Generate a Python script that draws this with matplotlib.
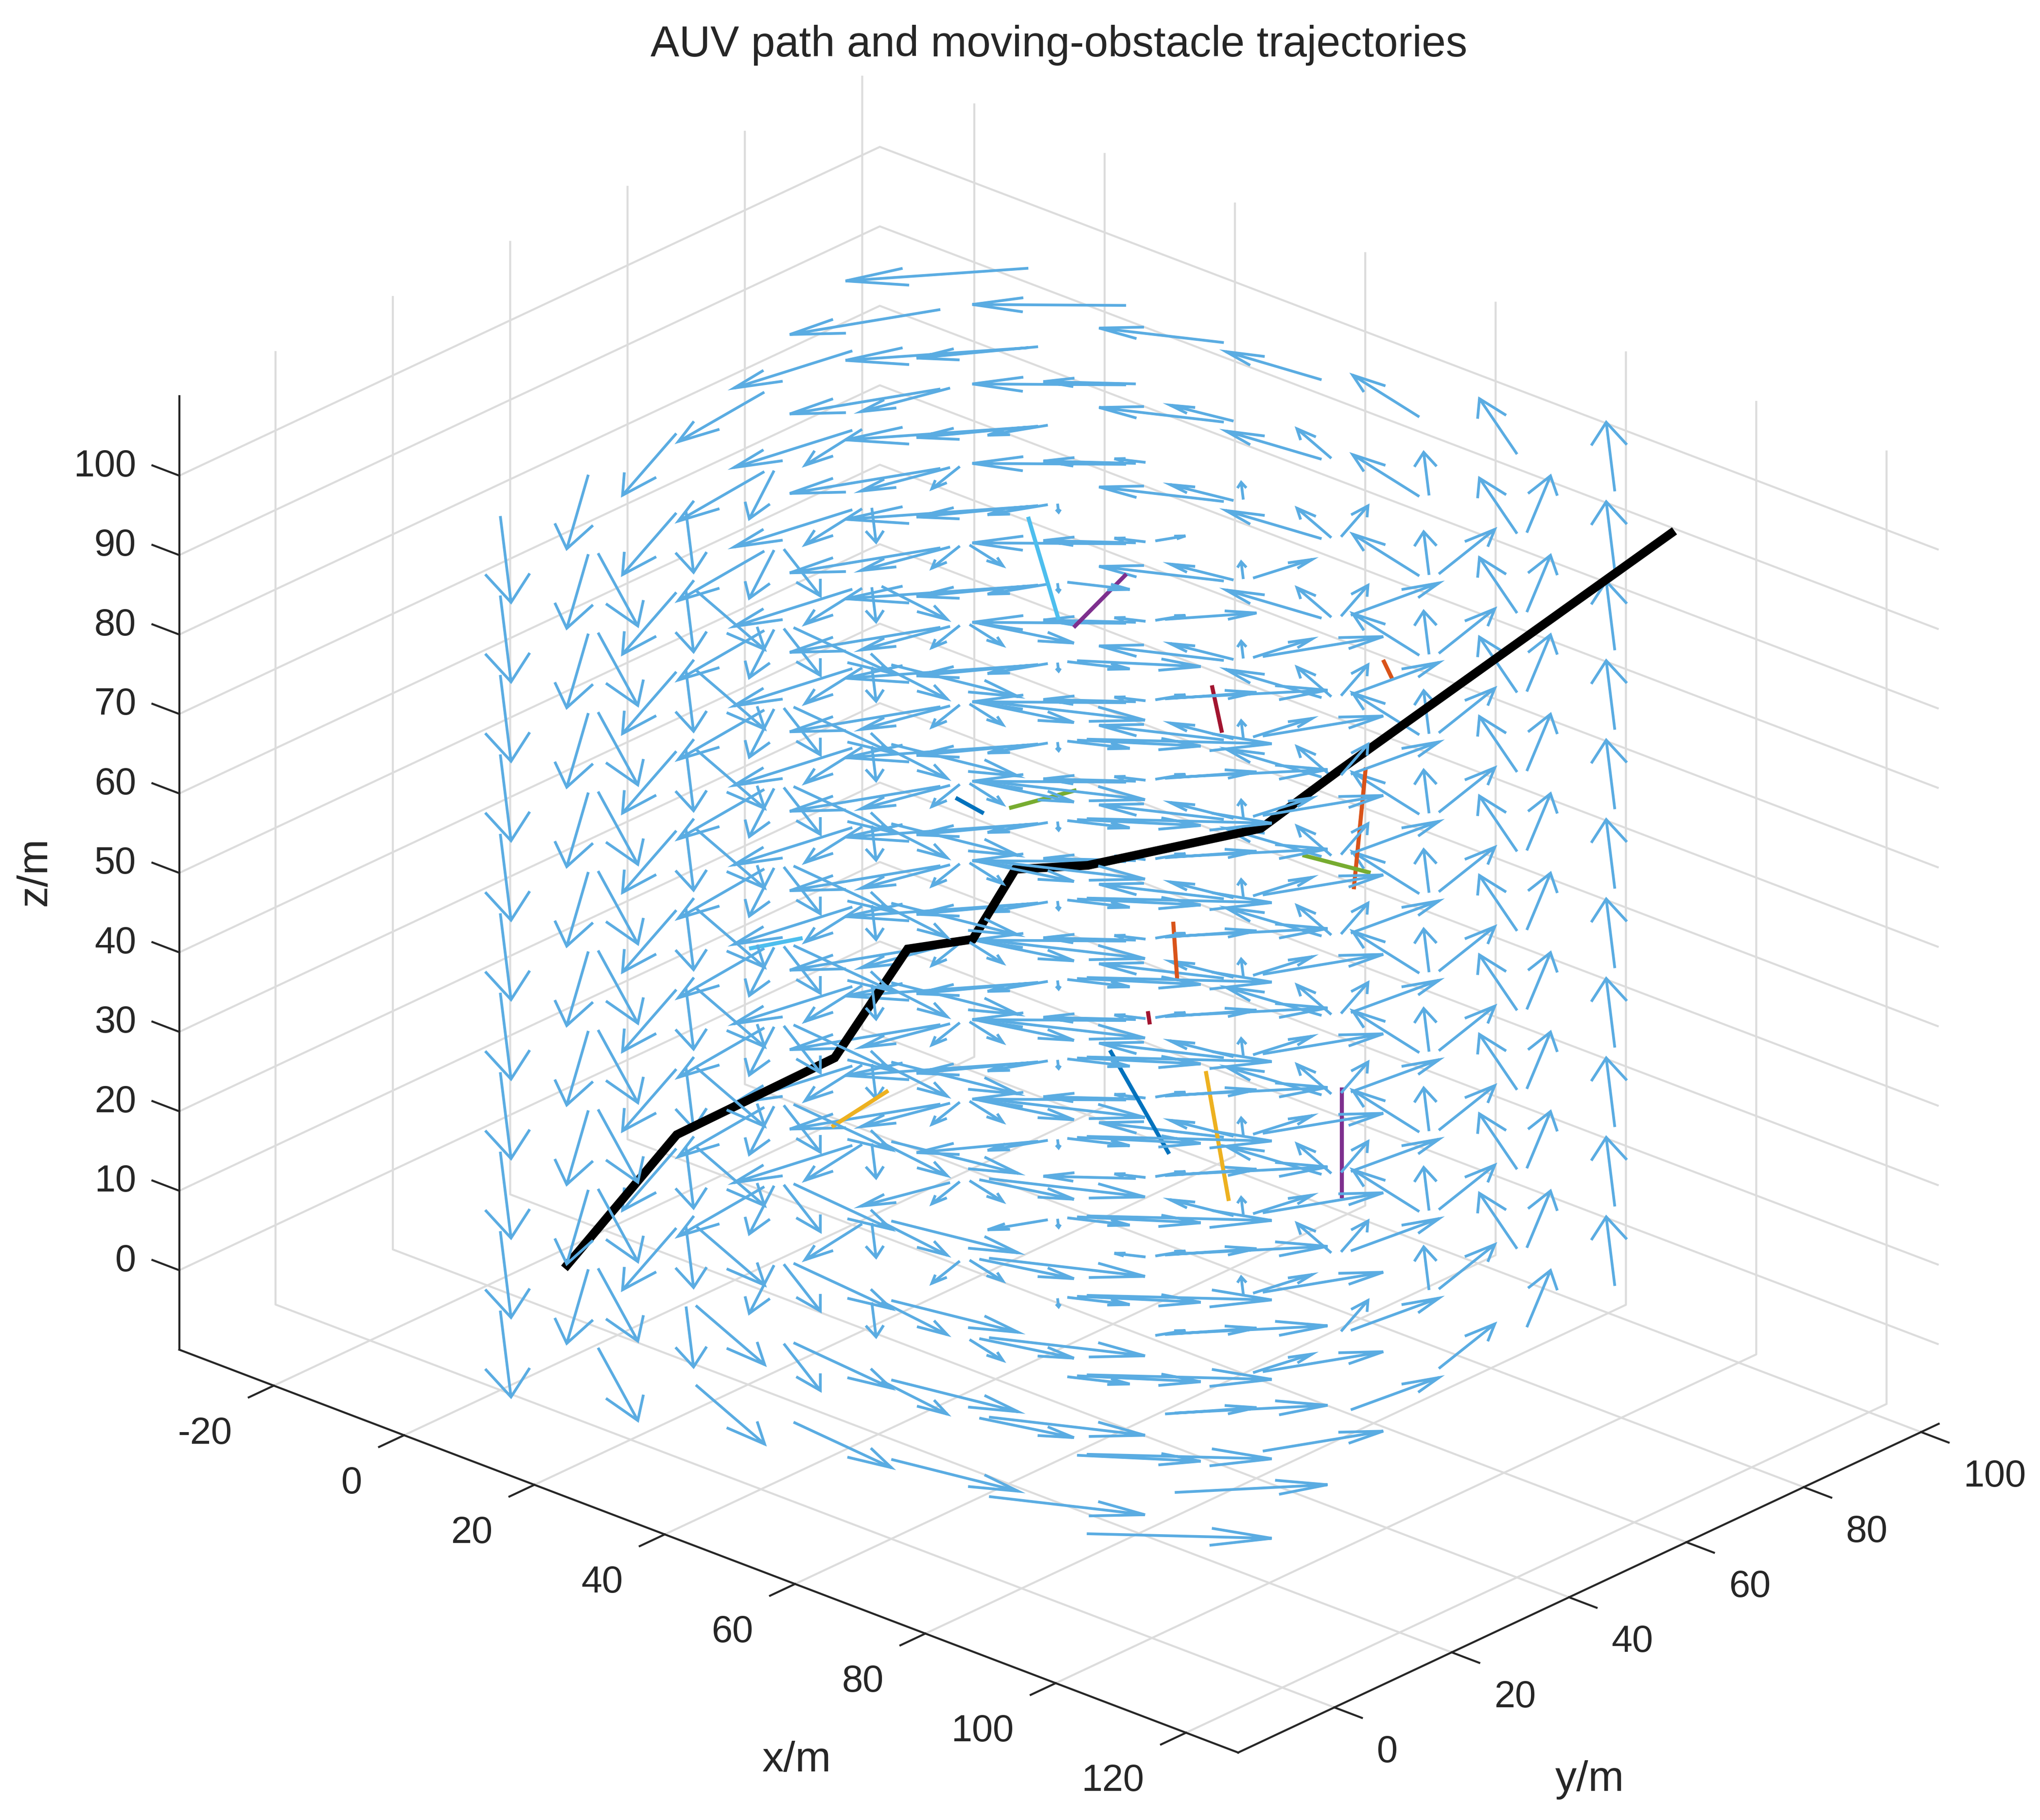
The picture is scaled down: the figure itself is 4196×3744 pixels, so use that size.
import matplotlib
matplotlib.use("Agg")
import matplotlib.pyplot as plt
from matplotlib.ticker import NullFormatter
from mpl_toolkits.mplot3d import proj3d
import numpy as np

# ---------- data ----------
grid_x = [0, 15, 30, 45, 60, 75, 90]
grid_y = [0, 15, 30, 45, 60, 75, 90]
levels_z = [0, 10, 20, 30, 40, 50, 60, 70, 80, 90, 100]
# current vectors, one row per grid_y value, one column per grid_x value
current_u = [
    [16.5, 16.5, 16.5, 16.5, 16.5, 16.5, 16.5],
    [11.55, 11.55, 11.55, 11.55, 11.55, 11.55, 11.55],
    [6.6, 6.6, 6.6, 6.6, 6.6, 6.6, 6.6],
    [1.65, 1.65, 1.65, 1.65, 1.65, 1.65, 1.65],
    [-3.3, -3.3, -3.3, -3.3, -3.3, -3.3, -3.3],
    [-8.25, -8.25, -8.25, -8.25, -8.25, -8.25, -8.25],
    [-13.2, -13.2, -13.2, -13.2, -13.2, -13.2, -13.2],
]
current_v = [
    [-16.5, -11.55, -6.6, -1.65, 3.3, 8.25, 13.2],
    [-16.5, -11.55, -6.6, -1.65, 3.3, 8.25, 13.2],
    [-16.5, -11.55, -6.6, -1.65, 3.3, 8.25, 13.2],
    [-16.5, -11.55, -6.6, -1.65, 3.3, 8.25, 13.2],
    [-16.5, -11.55, -6.6, -1.65, 3.3, 8.25, 13.2],
    [-16.5, -11.55, -6.6, -1.65, 3.3, 8.25, 13.2],
    [-16.5, -11.55, -6.6, -1.65, 3.3, 8.25, 13.2],
]
path_x = [5.18, 14.25, 27.0, 32.89, 38.15, 41.6, 47.45, 61.42, 67.62, 94.82]
path_y = [5.18, 14.25, 27.0, 32.89, 38.15, 41.6, 47.45, 61.42, 67.62, 94.82]
path_z = [5.14, 21.65, 30.88, 44.38, 45.42, 54.11, 54.4, 58.57, 65.51, 94.86]

obstacle_start_xy = [36.77, 69.89, 31.33, 50.56, 41.09, 42.62, 57.46, 49.23,
                     54.34, 56.97, 67.94, 64.78, 20.09, 52.29, 71.29]
obstacle_start_z = [63.27, 65.95, 26.61, 90.95, 61.82, 98.43, 76.71, 31.07,
                    47.07, 28.18, 25.77, 55.09, 44.87, 35.88, 79.44]
obstacle_end_xy = [39.04, 68.92, 26.77, 46.3, 46.53, 45.09, 58.28, 54.01,
                   54.66, 58.83, 67.94, 70.28, 24.41, 52.45, 72.01]
obstacle_end_z = [61.23, 50.65, 22.2, 84.38, 63.9, 85.4, 70.72, 17.86,
                  39.82, 11.77, 11.79, 52.67, 46.04, 34.21, 77.07]
obstacle_colors = ["#0072BD", "#D95319", "#EDB120", "#7E2F8E", "#77AC30", "#4DBEEE", "#A2142F",
                   "#0072BD", "#D95319", "#EDB120", "#7E2F8E", "#77AC30", "#4DBEEE", "#A2142F",
                   "#D95319"]
# arrows on the diagonal or behind it that still show over the black path
over_path_arrows = [(30, 30, 40), (0, 15, 10)]

x_ticks = [-20, 0, 20, 40, 60, 80, 100, 120]
y_ticks = [0, 20, 40, 60, 80, 100]
z_ticks = [0, 10, 20, 30, 40, 50, 60, 70, 80, 90, 100]
x_lim = (-34.5, 128.0)
y_lim = (-16.4, 103.0)
z_lim = (-10.0, 110.0)
title_text = "AUV path and moving-obstacle trajectories"

# ---------- figure ----------
W, H = 4196, 3745
DPI = 600
INK = "#262626"
GRID = "#DCDCDC"
ARROW = "#5AACE2"
plt.rcParams["font.family"] = ["Liberation Sans", "DejaVu Sans"]

fig = plt.figure(figsize=(W / DPI, H / DPI), dpi=DPI)
S = 1.6 * W
ax = fig.add_axes([-0.3, -0.3, S / W, S / H], projection="3d",
                  proj_type="ortho", computed_zorder=False)
ax.patch.set_alpha(0)
ax.view_init(elev=25, azim=-48, roll=0)

# current field: MATLAB-style arrows (shaft plus two barbs)
alpha, beta = 0.33, 0.33
back = ([], [], [])
front = ([], [], [])
for z in levels_z:
    for j, y in enumerate(grid_y):
        for i, x in enumerate(grid_x):
            u, v = current_u[j][i], current_v[j][i]
            tx, ty = x + u, y + v
            w1 = (tx - alpha * (u + beta * v), ty - alpha * (v - beta * u))
            w2 = (tx - alpha * (u - beta * v), ty - alpha * (v + beta * u))
            dest = front if (x > y or (x, y, z) in over_path_arrows) else back
            dest[0].extend([x, tx, np.nan, w1[0], tx, w2[0], np.nan])
            dest[1].extend([y, ty, np.nan, w1[1], ty, w2[1], np.nan])
            dest[2].extend([z, z, np.nan, z, z, z, np.nan])
ax.plot(*back, color=ARROW, lw=0.68, zorder=2,
        solid_capstyle="butt", solid_joinstyle="miter")
ax.plot(*front, color=ARROW, lw=0.68, zorder=5,
        solid_capstyle="butt", solid_joinstyle="miter")

for k, c in enumerate(obstacle_colors):
    ax.plot([obstacle_start_xy[k], obstacle_end_xy[k]],
            [obstacle_start_xy[k], obstacle_end_xy[k]],
            [obstacle_start_z[k], obstacle_end_z[k]],
            color=c, lw=1.0, zorder=3, solid_capstyle="butt")

ax.plot(path_x, path_y, path_z, color="black", lw=2.15, zorder=4,
        solid_capstyle="butt", solid_joinstyle="miter")

ax.set_xlim(*x_lim)
ax.set_ylim(*y_lim)
ax.set_zlim(*z_lim)
ax.set_xticks(x_ticks)
ax.set_yticks(y_ticks)
ax.set_zticks(z_ticks)
for axis, t_in, t_out in ((ax.xaxis, 0.446, 0.0), (ax.yaxis, 0.325, 0.0), (ax.zaxis, 0.0, 0.317)):
    axis.set_major_formatter(NullFormatter())
    axis.set_pane_color((1, 1, 1, 0))
    axis.pane.set_edgecolor("none")
    axis.line.set_color(INK)
    axis.line.set_linewidth(0.5)
    axis._axinfo["grid"].update(color=GRID, linewidth=0.5, linestyle="-")
    axis._axinfo["tick"].update(inward_factor=t_in, outward_factor=t_out,
                                linewidth={True: 0.5, False: 0.5})
ax.tick_params(axis="both", color=INK)
ax.tick_params(axis="z", color=INK)
ax.zaxis.set_ticks_position("lower")
# z ticks run along the x direction in the reference
ax.zaxis._get_tickdir = lambda position: 0

ranges = (x_lim[1] - x_lim[0], y_lim[1] - y_lim[0], z_lim[1] - z_lim[0])
ax.set_box_aspect(ranges, zoom=1.0)


def to_image(x, y, z):
    X, Y, _ = proj3d.proj_transform(x, y, z, ax.get_proj())
    px, py = ax.transData.transform((X, Y))
    return px, H - py


# fit the box to the reference: two corners set scale and position
left_target = np.array([368.75, 2777.5])
front_target = np.array([2546.7, 3606.3])
fig.canvas.draw()
a = np.array(to_image(x_lim[0], y_lim[0], z_lim[0]))
b = np.array(to_image(x_lim[1], y_lim[0], z_lim[0]))
ax.set_box_aspect(ranges, zoom=np.linalg.norm(front_target - left_target) / np.linalg.norm(b - a))
fig.canvas.draw()
a = np.array(to_image(x_lim[0], y_lim[0], z_lim[0]))
pos = ax.get_position(original=True)
dx, dy = left_target - a
ax.set_position([pos.x0 + dx / W, pos.y0 - dy / H, pos.width, pos.height])
fig.canvas.draw()


def put(px, py, s, **kw):
    fig.text(px / W, 1 - py / H, s, color=INK, **kw)


TICK_FS = 9.3
LABEL_FS = 10.6
for t in x_ticks:
    px, py = to_image(t, y_lim[0], z_lim[0])
    put(px - 86, py + 98, str(t), ha="right", va="center", fontsize=TICK_FS)
for t in y_ticks:
    px, py = to_image(x_lim[1], t, z_lim[0])
    put(px + 87, py + 91, str(t), ha="left", va="center", fontsize=TICK_FS)
for t in z_ticks:
    px, py = to_image(x_lim[0], y_lim[0], t)
    put(px - 89, py - 20, str(t), ha="right", va="center", fontsize=TICK_FS)

put(1638, 3622, "x/m", ha="center", va="center", fontsize=LABEL_FS)
put(3270, 3662, "y/m", ha="center", va="center", fontsize=LABEL_FS)
put(72, 1793, "z/m", ha="center", va="center", rotation=90, fontsize=LABEL_FS)
put(2178, 93, title_text, ha="center", va="center", fontsize=10.65)

fig.savefig("out.png", dpi=DPI, facecolor="white")
